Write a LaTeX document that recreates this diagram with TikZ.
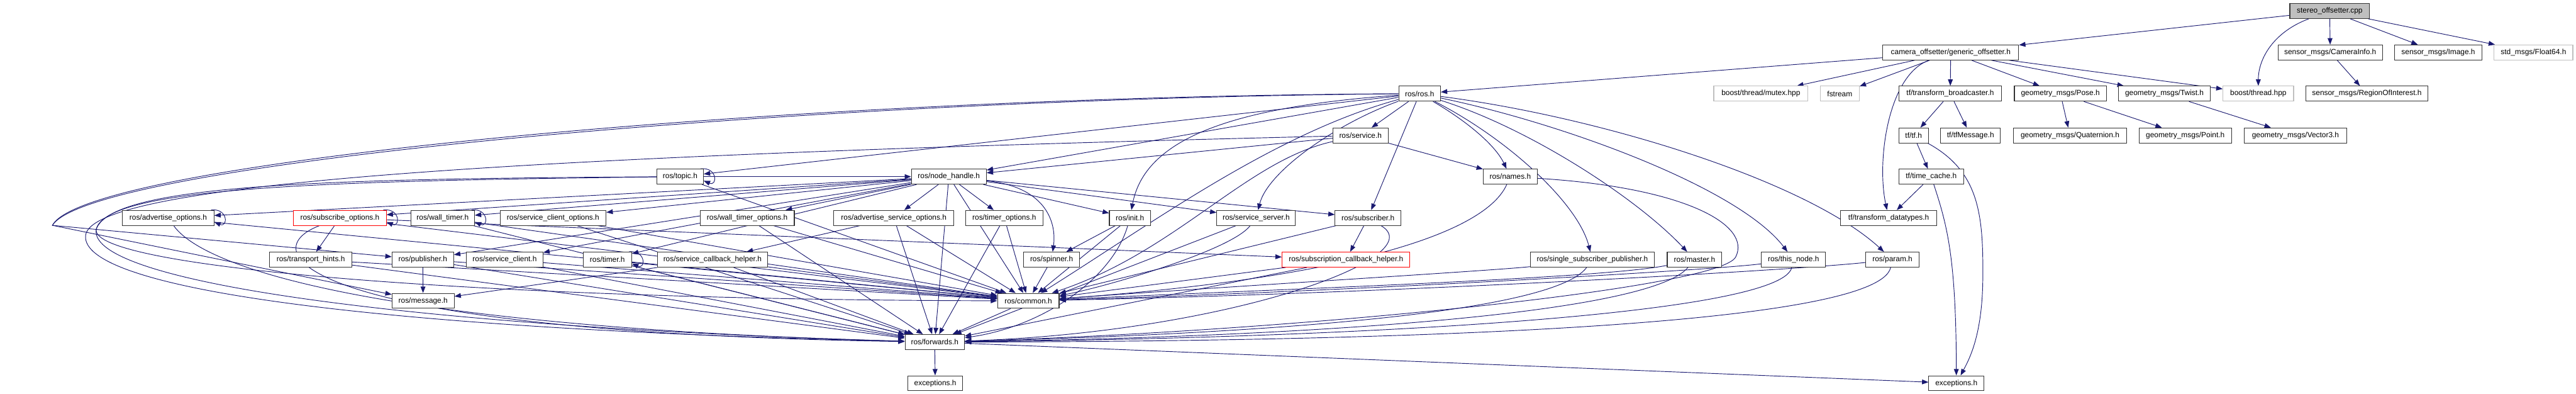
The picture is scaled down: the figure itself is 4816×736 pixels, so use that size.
\documentclass[tikz,border=0pt]{standalone}
\usepackage{fontspec}
\setmainfont{Liberation Sans}
\usepackage{tikz}
\usetikzlibrary{arrows.meta,backgrounds}
\definecolor{edgeblue}{HTML}{191970}
\definecolor{extgray}{HTML}{BFBFBF}
\definecolor{cutred}{HTML}{FF0000}
\definecolor{boxedge}{HTML}{333333}

\begin{document}
\begin{tikzpicture}[
  x=1pt, y=-1pt,
  incfile/.style={draw=boxedge, line width=1.3pt, fill=white, inner sep=0pt,
    minimum height=28pt, font=\fontsize{14}{16}\selectfont},
  extfile/.style={incfile, draw=extgray},
  cutfile/.style={incfile, draw=cutred},
  rootfile/.style={incfile, fill=extgray},
  dep/.style={draw=edgeblue, line width=1.1pt, -{Triangle[length=12pt,width=9pt]}}
]
  \useasboundingbox (0,0) rectangle (4816,736);

  % row 0 and 1
  \node[rootfile, minimum width=149pt] (stereo) at (4355.5,20.5) {stereo\_offsetter.cpp};
  \node[incfile, minimum width=254pt] (gen) at (3647,98) {camera\_offsetter/generic\_offsetter.h};
  \node[incfile, minimum width=195pt] (caminfo) at (4356.5,98) {sensor\_msgs/CameraInfo.h};
  \node[incfile, minimum width=163pt] (image) at (4558.5,98) {sensor\_msgs/Image.h};
  \node[extfile, minimum width=147pt] (float64) at (4736.5,98) {std\_msgs/Float64.h};

  % row 2
  \node[incfile, minimum width=78pt] (rosh) at (2654,175) {ros/ros.h};
  \node[extfile, minimum width=176pt] (mutex) at (3292,175) {boost/thread/mutex.hpp};
  \node[extfile, minimum width=73pt] (fstream) at (3439.5,175) {fstream};
  \node[incfile, minimum width=192pt] (tfbc) at (3646,175) {tf/transform\_broadcaster.h};
  \node[incfile, minimum width=172pt] (pose) at (3852,175) {geometry\_msgs/Pose.h};
  \node[incfile, minimum width=171pt] (twist) at (4046.5,175) {geometry\_msgs/Twist.h};
  \node[extfile, minimum width=132pt] (bthread) at (4222,175) {boost/thread.hpp};
  \node[incfile, minimum width=228pt] (roi) at (4425,175) {sensor\_msgs/RegionOfInterest.h};

  % row 3
  \node[incfile, minimum width=103pt] (service) at (2543.5,253) {ros/service.h};
  \node[incfile, minimum width=55pt] (tftf) at (3577.5,253) {tf/tf.h};
  \node[incfile, minimum width=112pt] (tfmsg) at (3684,253) {tf/tfMessage.h};
  \node[incfile, minimum width=212pt] (quat) at (3870,253) {geometry\_msgs/Quaternion.h};
  \node[incfile, minimum width=173pt] (point) at (4085.5,253) {geometry\_msgs/Point.h};
  \node[incfile, minimum width=191pt] (vec3) at (4291.5,253) {geometry\_msgs/Vector3.h};

  % row 4
  \node[incfile, minimum width=87pt] (topic) at (1271.5,330) {ros/topic.h};
  \node[incfile, minimum width=140pt] (nh) at (1774,330) {ros/node\_handle.h};
  \node[incfile, minimum width=101pt] (names) at (2823.5,330) {ros/names.h};
  \node[incfile, minimum width=121pt] (timecache) at (3610.5,330) {tf/time\_cache.h};

  % row 5
  \node[incfile, minimum width=171pt] (advopt) at (314.5,407) {ros/advertise\_options.h};
  \node[cutfile, minimum width=173pt] (subopt) at (635.5,407) {ros/subscribe\_options.h};
  \node[incfile, minimum width=119pt] (walltimer) at (827.5,407) {ros/wall\_timer.h};
  \node[incfile, minimum width=198pt] (scopt) at (1034,407) {ros/service\_client\_options.h};
  \node[incfile, minimum width=176pt] (wtopt) at (1397,407) {ros/wall\_timer\_options.h};
  \node[incfile, minimum width=224pt] (asopt) at (1671,407) {ros/advertise\_service\_options.h};
  \node[incfile, minimum width=145pt] (topt) at (1877.5,407) {ros/timer\_options.h};
  \node[incfile, minimum width=77pt] (init) at (2112.5,407) {ros/init.h};
  \node[incfile, minimum width=147pt] (sserver) at (2348.5,407) {ros/service\_server.h};
  \node[incfile, minimum width=123pt] (subscriber) at (2557.5,407) {ros/subscriber.h};
  \node[incfile, minimum width=180pt] (tfdt) at (3531,407) {tf/transform\_datatypes.h};

  % row 6
  \node[incfile, minimum width=154pt] (thints) at (581,485) {ros/transport\_hints.h};
  \node[incfile, minimum width=115pt] (pub) at (790.5,485) {ros/publisher.h};
  \node[incfile, minimum width=143pt] (sclient) at (943.5,485) {ros/service\_client.h};
  \node[incfile, minimum width=91pt] (timer) at (1135.5,485) {ros/timer.h};
  \node[incfile, minimum width=206pt] (schelper) at (1332,485) {ros/service\_callback\_helper.h};
  \node[incfile, minimum width=104pt] (spinner) at (1966,485) {ros/spinner.h};
  \node[cutfile, minimum width=239pt] (subcb) at (2516.5,485) {ros/subscription\_callback\_helper.h};
  \node[incfile, minimum width=232pt] (ssp) at (2977,485) {ros/single\_subscriber\_publisher.h};
  \node[incfile, minimum width=102pt] (master) at (3168,485) {ros/master.h};
  \node[incfile, minimum width=120pt] (thisnode) at (3353,485) {ros/this\_node.h};
  \node[incfile, minimum width=100pt] (param) at (3538,485) {ros/param.h};

  % rows 7 to 9
  \node[incfile, minimum width=116pt] (message) at (791,562) {ros/message.h};
  \node[incfile, minimum width=115pt] (common) at (1922.5,562) {ros/common.h};
  \node[incfile, minimum width=111pt] (forwards) at (1747.5,639) {ros/forwards.h};
  \node[incfile, minimum width=103pt] (exca) at (1748.5,716) {exceptions.h};
  \node[incfile, minimum width=103pt] (excb) at (3657.5,716) {exceptions.h};

  \coordinate (farleft) at (98,421);
  \coordinate (swoopa) at (160,440);
  \coordinate (swoopb) at (180,428);
  \coordinate (swoopc) at (3245,480);

  \begin{scope}[on background layer]
  % camera offsetter part
  \draw[dep] (stereo) -- (gen);
  \draw[dep] (stereo) .. controls (4250,60) and (4222,110) .. (bthread);
  \draw[dep] (stereo) -- (caminfo);
  \draw[dep] (stereo) -- (image);
  \draw[dep] (stereo) -- (float64);
  \draw[dep] (caminfo) -- (roi);
  \draw[dep] (gen) -- (rosh);
  \draw[dep] (gen) -- (mutex);
  \draw[dep] (gen) -- (fstream);
  \draw[dep] (gen) -- (tfbc);
  \draw[dep] (gen) -- (pose);
  \draw[dep] (gen) -- (twist);
  \draw[dep] (gen) -- (bthread);
  \draw[dep] (gen) .. controls (3530,140) and (3508,300) .. (tfdt);
  \draw[dep] (tfbc) -- (tftf);
  \draw[dep] (tfbc) -- (tfmsg);
  \draw[dep] (pose) -- (quat);
  \draw[dep] (pose) -- (point);
  \draw[dep] (twist) -- (vec3);
  \draw[dep] (tftf) -- (timecache);
  \draw[dep] (tftf) .. controls (3700,320) and (3708,400) .. (3707,520) .. controls (3706,620) and (3685,665) .. (excb);
  \draw[dep] (timecache) .. controls (3640,420) and (3657,480) .. (excb);
  \draw[dep] (timecache) -- (tfdt);

  % ros/ros.h
  \draw[dep] (rosh) -- (service);
  \draw[dep] (rosh) .. controls (2740,225) and (2795,270) .. (names);
  \draw[dep] (rosh) -- (topic);
  \draw[dep] (rosh) -- (nh);
  \draw[dep] (rosh) .. controls (2300,200) and (2140,260) .. (init);
  \draw[dep] (rosh) -- (subscriber);
  \draw[dep] (rosh) .. controls (2500,230) and (2370,320) .. (sserver);
  \draw[dep] (rosh) .. controls (2820,260) and (2950,380) .. (ssp);
  \draw[dep] (rosh) .. controls (2860,240) and (3060,370) .. (master);
  \draw[dep] (rosh) .. controls (2920,230) and (3250,350) .. (thisnode);
  \draw[dep] (rosh) .. controls (3000,220) and (3380,340) .. (param);
  \draw[dep] (rosh) .. controls (2380,250) and (2150,420) .. (common);
  \draw[dep] (rosh) .. controls (1500,180) and (160,300) .. (farleft) -- (pub);
  \draw[dep] (rosh) .. controls (1500,184) and (170,304) .. (farleft) -- (message);

  % ros/service.h, ros/names.h, ros/topic.h
  \draw[dep] (service) -- (names);
  \draw[dep] (service) -- (nh);
  \draw[dep] (service) .. controls (2330,300) and (2200,470) .. (common);
  \draw[dep] (service) .. controls (1000,290) and (170,340) .. (swoopa) .. controls (150,540) and (700,615) .. (forwards);
  \draw[dep] (names) .. controls (2770,450) and (2450,525) .. (common);
  \draw[dep] (names) .. controls (3150,350) and (3275,420) .. (swoopc) .. controls (3215,540) and (2400,620) .. (forwards);
  \draw[dep] (topic) -- (nh);
  \draw[dep] (topic) -- (common);
  \draw[dep] (topic) .. controls (600,334) and (210,345) .. (swoopb) .. controls (165,500) and (900,560) .. (common);
  \draw[dep] (topic) .. controls (600,338) and (200,350) .. (swoopb) .. controls (160,530) and (800,612) .. (forwards);
  \draw[dep] ([xshift=-6pt]topic.north east) .. controls ([xshift=26pt,yshift=4pt]topic.north east) and ([xshift=26pt,yshift=-4pt]topic.south east) .. ([yshift=7pt]topic.south east);

  % ros/node_handle.h
  \draw[dep] (nh) -- (advopt);
  \draw[dep] (nh) -- (subopt);
  \draw[dep] (nh) -- (walltimer);
  \draw[dep] (nh) -- (scopt);
  \draw[dep] (nh) -- (wtopt);
  \draw[dep] (nh) -- (asopt);
  \draw[dep] (nh) -- (topt);
  \draw[dep] (nh) -- (init);
  \draw[dep] (nh) -- (sserver);
  \draw[dep] (nh) -- (subscriber);
  \draw[dep] (nh) -- (pub);
  \draw[dep] (nh) -- (sclient);
  \draw[dep] (nh) -- (timer);
  \draw[dep] (nh) .. controls (1960,350) and (1975,420) .. (spinner);
  \draw[dep] (nh) -- (common);
  \draw[dep] (nh) -- (forwards);

  % self references
  \draw[dep] ([xshift=-6pt]advopt.north east) .. controls ([xshift=26pt,yshift=4pt]advopt.north east) and ([xshift=26pt,yshift=-4pt]advopt.south east) .. ([yshift=7pt]advopt.south east);
  \draw[dep] ([xshift=-6pt]subopt.north east) .. controls ([xshift=26pt,yshift=4pt]subopt.north east) and ([xshift=26pt,yshift=-4pt]subopt.south east) .. ([yshift=7pt]subopt.south east);
  \draw[dep] ([xshift=-6pt]walltimer.north east) .. controls ([xshift=26pt,yshift=4pt]walltimer.north east) and ([xshift=26pt,yshift=-4pt]walltimer.south east) .. ([yshift=7pt]walltimer.south east);
  \draw[dep] ([xshift=-6pt]timer.north east) .. controls ([xshift=26pt,yshift=4pt]timer.north east) and ([xshift=26pt,yshift=-4pt]timer.south east) .. ([yshift=7pt]timer.south east);

  % options, timers, clients
  \draw[dep] (advopt) -- (common);
  \draw[dep] (advopt) .. controls (380,500) and (700,610) .. (forwards);
  \draw[dep] (subopt) -- (thints);
  \draw[dep] (subopt) -- (subcb);
  \draw[dep] (subopt) -- (common);
  \draw[dep] (subopt) .. controls (470,470) and (560,620) .. (forwards);
  \draw[dep] (walltimer) -- (common);
  \draw[dep] (walltimer) -- (forwards);
  \draw[dep] (scopt) -- (common);
  \draw[dep] (scopt) -- (forwards);
  \draw[dep] (wtopt) -- (common);
  \draw[dep] (wtopt) -- (forwards);
  \draw[dep] (asopt) -- (schelper);
  \draw[dep] (asopt) -- (common);
  \draw[dep] (asopt) -- (forwards);
  \draw[dep] (topt) -- (common);
  \draw[dep] (topt) -- (forwards);
  \draw[dep] (init) -- (spinner);
  \draw[dep] (init) -- (common);
  \draw[dep] (init) .. controls (2080,520) and (1950,610) .. (forwards);
  \draw[dep] (sserver) .. controls (2300,470) and (2050,540) .. (common);
  \draw[dep] (sserver) -- (forwards);
  \draw[dep] (subscriber) -- (subcb);
  \draw[dep] (subscriber) -- (common);
  \draw[dep] (subscriber) .. controls (2680,480) and (2300,620) .. (forwards);
  \draw[dep] (thints) -- (common);
  \draw[dep] (thints) -- (forwards);
  \draw[dep] (pub) -- (message);
  \draw[dep] (pub) -- (common);
  \draw[dep] (pub) -- (forwards);
  \draw[dep] (sclient) -- (common);
  \draw[dep] (sclient) -- (forwards);
  \draw[dep] (timer) -- (common);
  \draw[dep] (timer) -- (forwards);
  \draw[dep] (schelper) -- (message);
  \draw[dep] (schelper) -- (common);
  \draw[dep] (schelper) -- (forwards);
  \draw[dep] (spinner) -- (common);
  \draw[dep] (subcb) -- (common);
  \draw[dep] (subcb) -- (forwards);

  % right hand side headers
  \draw[dep] (ssp) .. controls (2800,505) and (2300,535) .. (common);
  \draw[dep] (ssp) .. controls (2900,590) and (2300,625) .. (forwards);
  \draw[dep] (master) .. controls (3000,520) and (2400,540) .. (common);
  \draw[dep] (master) .. controls (3080,590) and (2400,630) .. (forwards);
  \draw[dep] (thisnode) .. controls (3200,505) and (2500,545) .. (common);
  \draw[dep] (thisnode) .. controls (3330,590) and (2500,632) .. (forwards);
  \draw[dep] (param) .. controls (3350,505) and (2600,548) .. (common);
  \draw[dep] (param) .. controls (3510,610) and (2600,638) .. (forwards);

  % bottom
  \draw[dep] (common) -- (forwards);
  \draw[dep] (forwards) -- (exca);
  \draw[dep] (forwards) -- (excb);
  \end{scope}
\end{tikzpicture}
\end{document}
